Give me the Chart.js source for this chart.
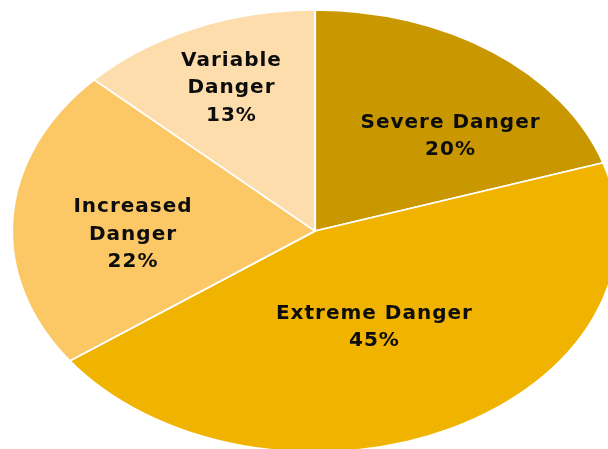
<!DOCTYPE html>
<html>
<head>
<meta charset="utf-8">
<script src="https://cdn.jsdelivr.net/npm/chart.js@4.4.1/dist/chart.umd.min.js"></script>
<style>
  html, body { margin: 0; padding: 0; background: #fff; }
  #wrap { width: 608px; height: 449px; }
</style>
</head>
<body>
<div id="wrap"><canvas id="PieChart" width="608" height="449"></canvas></div>
<script>
// data
var categories = ["Severe Danger", "Extreme Danger", "Increased Danger", "Variable Danger"];
var labelLines = [["Severe Danger"], ["Extreme Danger"], ["Increased", "Danger"], ["Variable", "Danger"]];
var shares = [20, 45, 22, 13];
var sliceColors = ["#C99700", "#F0B400", "#FCC866", "#FEDDAD"];

// layout: the pie in the picture is an ellipse, cut off on the right and bottom
var CX = 315, CY = 231, RX = 303, RY = 221;
// label placement: degrees away from the slice middle, and distance as part of radius
var labelShift = [10.2, 3.0, -5.2, 0.2];
var labelRadius = [0.6175, 0.478, 0.6025, 0.704];

var ellipsePlugin = {
    id: 'ellipse',
    beforeDatasetsDraw: function (chart) {
        var arc = chart.getDatasetMeta(0).data[0];
        var ctx = chart.ctx;
        var r = arc.outerRadius;
        ctx.save();
        ctx.translate(CX, CY);
        ctx.scale(RX / r, RY / r);
        ctx.translate(-arc.x, -arc.y);
    },
    afterDatasetsDraw: function (chart) {
        var ctx = chart.ctx;
        ctx.restore();
        var meta = chart.getDatasetMeta(0);
        ctx.save();
        ctx.fillStyle = "#0d0d0d";
        ctx.font = "bold 20px 'DejaVu Sans'";
        ctx.letterSpacing = "1px";
        ctx.textAlign = "center";
        ctx.textBaseline = "middle";
        meta.data.forEach(function (a, i) {
            var mid = (a.startAngle + a.endAngle) / 2 + labelShift[i] * Math.PI / 180;
            var f = labelRadius[i];
            var x = CX + RX * f * Math.cos(mid) + 0.5;
            var y = CY + RY * f * Math.sin(mid);
            var lines = labelLines[i].concat([shares[i] + "%"]);
            var lh = 27.5;
            var y0 = y - (lines.length - 1) * lh / 2;
            lines.forEach(function (t, k) {
                ctx.fillText(t, x, y0 + k * lh);
            });
        });
        ctx.restore();
    }
};

var ctxPie = document.getElementById('PieChart').getContext('2d');
var myChart = new Chart(ctxPie, {
    type: 'pie',
    data: {
        labels: categories,
        datasets: [{
            data: shares,
            backgroundColor: sliceColors,
            borderColor: "#ffffff",
            borderWidth: 1.6
        }]
    },
    options: {
        responsive: false,
        animation: false,
        plugins: {
            legend: { display: false },
            tooltip: { enabled: false }
        }
    },
    plugins: [ellipsePlugin]
});
</script>
</body>
</html>
